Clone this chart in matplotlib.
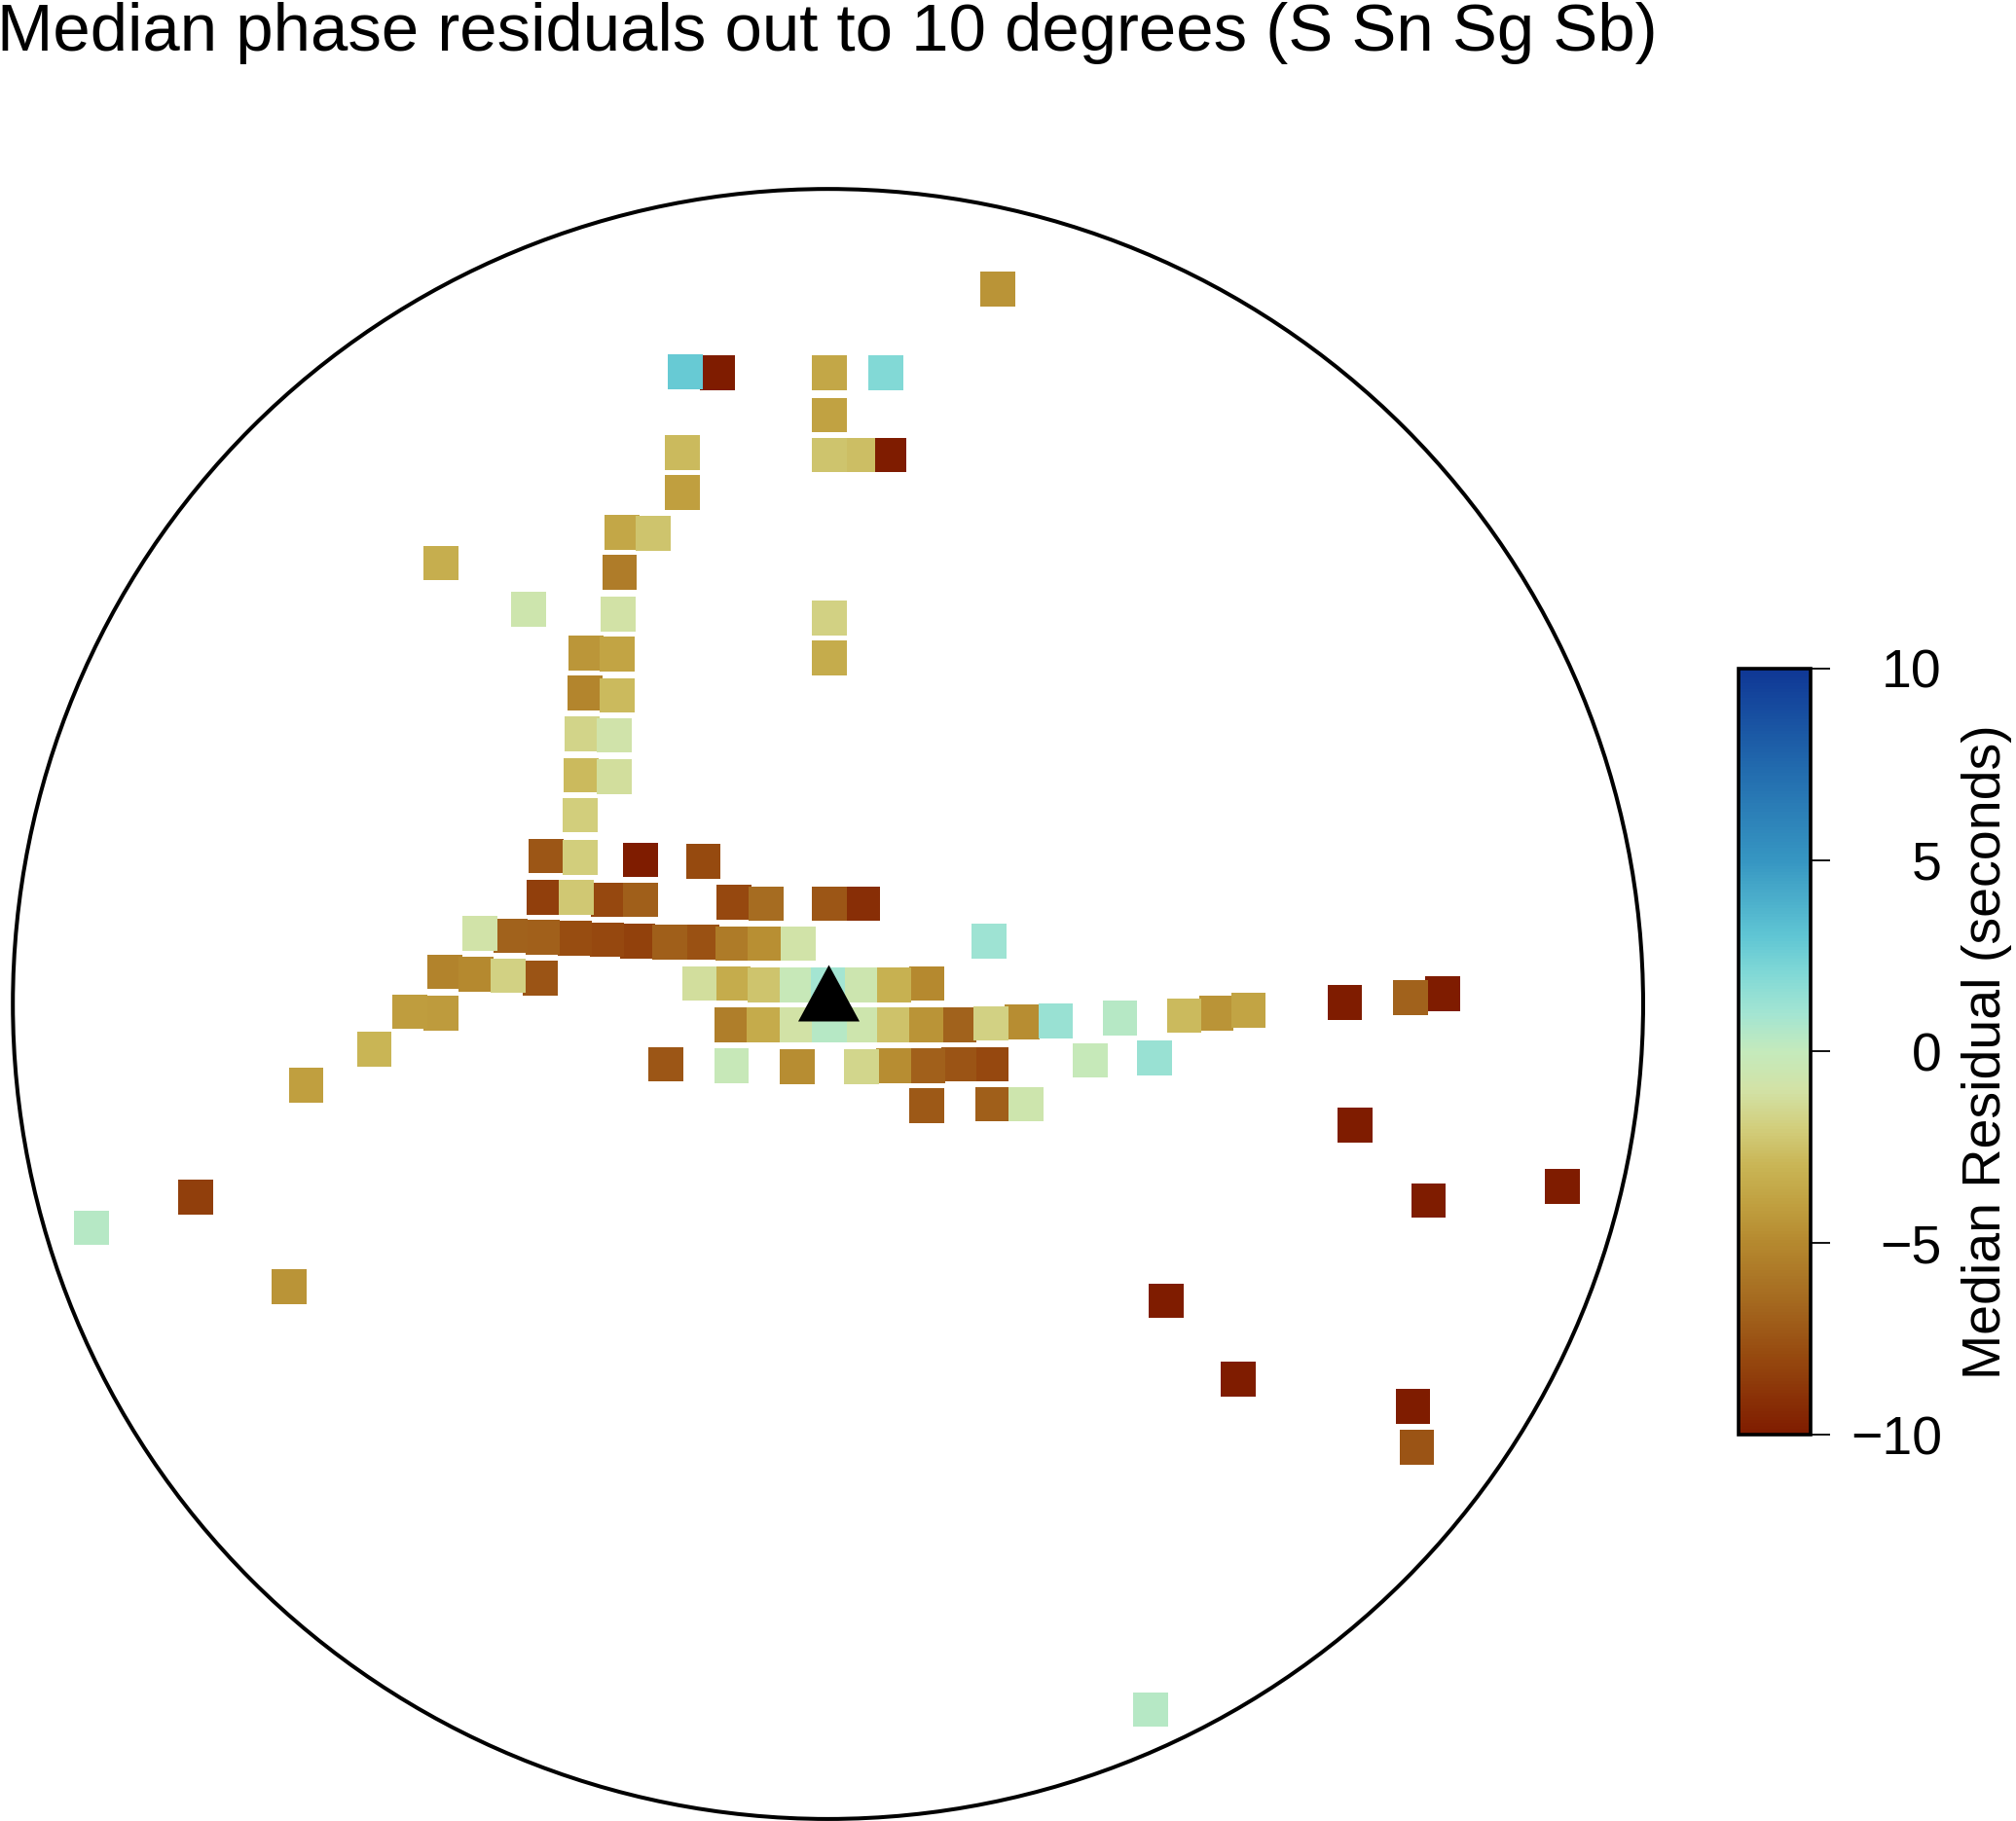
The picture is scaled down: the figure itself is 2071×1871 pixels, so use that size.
import numpy as np
import matplotlib
matplotlib.use("Agg")
import matplotlib.pyplot as plt
from matplotlib.colors import LinearSegmentedColormap, Normalize
from matplotlib.cm import ScalarMappable
from matplotlib.markers import MarkerStyle
from matplotlib.patches import Circle
from matplotlib.transforms import Affine2D

plt.rcParams['font.family'] = ['Liberation Sans', 'DejaVu Sans']

TITLE = "Median phase residuals out to 10 degrees (S Sn Sg Sb)"
CBAR_LABEL = "Median Residual (seconds)"
CBAR_TICKS = [-10, -5, 0, 5, 10]
# map units: the circle (10 degrees from the station) has radius 634
RADIUS = 634
STATION = (0, 9)

east = [132,-111,-86,1,45,1,-113,1,23,47,-113,-160,-136,-301,-162,-233,-163,1,-188,-164,
        1,-189,-164,-191,-166,-192,-166,-193,-219,-193,-146,-97,-221,-196,-171,-146,-73,-48,1,27,
        125,-271,-247,-222,-197,-172,-148,-123,-98,-74,-49,-23,-298,-274,-249,-224,-100,-74,-49,-24,
        0,25,51,77,-325,-301,-75,-50,-24,1,25,50,76,102,127,151,177,227,277,302,
        327,-126,-75,-24,26,51,78,102,127,204,254,77,128,154,402,453,478,410,467,571,
        263,319,455,458,251,-353,-406,-492,-573,-419]
north = [556,492,491,491,491,458,429,427,427,427,398,367,366,343,336,307,303,300,273,272,
         269,242,240,210,209,178,177,147,115,114,112,111,83,83,81,81,79,78,78,78,
         49,55,53,52,51,50,49,48,48,47,47,47,25,23,22,20,16,16,15,15,
         15,15,15,16,-6,-7,-16,-16,-16,-16,-16,-16,-16,-16,-15,-14,-13,-11,-9,-7,
         -5,-47,-48,-49,-49,-48,-48,-47,-47,-44,-42,-79,-78,-78,1,5,8,-94,-153,-142,
         -231,-292,-313,-345,-549,-35,-63,-150,-174,-220]
residual = [-4.5,2.8,-10,-3.6,2.0,-3.9,-2.8,-2.4,-2.6,-10,-4,-3.6,-2.4,-3.3,-5.6,-0.7,-1,-1.8,-4.4,-3.8,
            -3.4,-5.2,-2.8,-1.7,-0.8,-2.8,-1.2,-2,-7.4,-2,-10,-7.9,-8.4,-2.2,-8,-7,-8,-6.4,-7.4,-9.2,
            1.1,-0.9,-6.8,-6.9,-7.8,-8,-8.3,-7,-7.6,-5.7,-4.7,-0.9,-5.3,-5,-1.8,-7.5,-1.2,-3.4,-2.4,-0.2,
            1,-0.6,-3.2,-5,-4.1,-4.2,-5.5,-3.5,-1,0.4,-0.7,-2.5,-4.5,-6.8,-1.8,-4.8,1.3,0.4,-2.8,-4.5,
            -3.8,-7.4,-0.2,-4.8,-1.6,-4.8,-6.9,-7.5,-8,-0.1,1.3,-7.2,-7,-0.7,-10,-6.8,-10,-10,-10,-10,
            -10,-10,-10,-7.5,0.4,-3,-4,-8.4,0.4,-4.5]

stops = [(-10, '#7f1c00'), (-8, '#96490f'), (-6.5, '#a56a20'), (-5, '#b5892f'), (-4, '#c0a040'),
         (-3, '#c9b555'), (-2, '#d2ce7c'), (-1, '#d2e2a6'), (0, '#c4eabc'), (1, '#a3e5d2'),
         (2, '#82d9d6'), (3, '#60c6d4'), (5, '#3696c2'), (7.5, '#2169ad'), (10, '#0f3795')]
cmap = LinearSegmentedColormap.from_list('resid', [((v + 10) / 20, c) for v, c in stops], N=256)
norm = Normalize(-10, 10)

W, H = 2071, 1871
fig = plt.figure(figsize=(W / 100, H / 100), dpi=100, facecolor='white')
ax = fig.add_axes([0, 0, 1, 1])
scale = W / 1568
ax.set_xlim(-644, W / scale - 644)
ax.set_ylim(781 - H / scale, 781)
ax.axis('off')

order = np.argsort(residual, kind='stable')
ax.scatter(np.array(east)[order], np.array(north)[order], c=np.array(residual)[order],
           cmap=cmap, norm=norm, marker='s', s=25.7 ** 2, linewidths=0, zorder=2)
ax.add_patch(Circle((0, 0), RADIUS, fill=False, ec='black', lw=2.9, zorder=3, clip_on=False))
ax.scatter([STATION[0]], [STATION[1]], color='black', s=45.4 ** 2, linewidths=0, zorder=4,
           marker=MarkerStyle('^', transform=Affine2D().scale(1, 0.92)))

fig.text(-3 / W, 1 - 52 / H, TITLE, fontsize=49.7, ha='left', va='baseline', color='black')

cax = fig.add_axes([1785.5 / W, 1 - 1474.3 / H, 74 / W, 787.6 / H])
cb = fig.colorbar(ScalarMappable(norm=norm, cmap=cmap), cax=cax, ticks=CBAR_TICKS)
cb.outline.set_linewidth(2.6)
cb.outline.set_edgecolor('black')
cax.tick_params(axis='y', length=14.4, width=1.3, pad=83, labelsize=40, right=True, color='black')
for t in cax.get_yticklabels():
    t.set_ha('right')
cax.set_ylabel(CBAR_LABEL, fontsize=40, rotation=90, va='center', ha='center')
cax.yaxis.set_label_coords(3.45, 0.5)

fig.savefig('out.png', dpi=100)
